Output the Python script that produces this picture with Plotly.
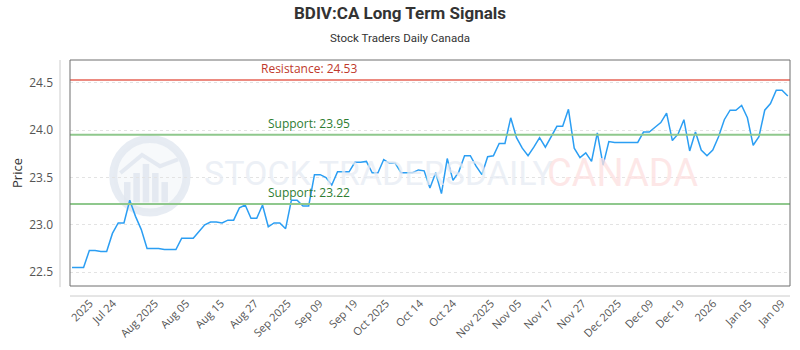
import plotly.graph_objects as go

# ---- data ----
prices = [22.55, 22.55, 22.55, 22.73, 22.73, 22.72, 22.72, 22.91, 23.02, 23.02,
          23.26, 23.09, 22.95, 22.75, 22.75, 22.75, 22.74, 22.74, 22.74, 22.86,
          22.86, 22.86, 22.93, 23.00, 23.03, 23.03, 23.02, 23.05, 23.05, 23.18,
          23.21, 23.07, 23.07, 23.21, 22.98, 23.02, 23.02, 22.96, 23.26, 23.26,
          23.20, 23.20, 23.53, 23.53, 23.50, 23.42, 23.56, 23.56, 23.56, 23.66,
          23.66, 23.67, 23.55, 23.55, 23.69, 23.65, 23.65, 23.55, 23.55, 23.55,
          23.58, 23.57, 23.39, 23.55, 23.33, 23.70, 23.47, 23.56, 23.73, 23.73,
          23.62, 23.53, 23.72, 23.73, 23.86, 23.86, 24.13, 23.92, 23.81, 23.73,
          23.82, 23.92, 23.82, 23.93, 24.04, 24.04, 24.22, 23.81, 23.71, 23.76,
          23.67, 23.97, 23.63, 23.88, 23.87, 23.87, 23.87, 23.87, 23.87, 23.98,
          23.98, 24.03, 24.08, 24.18, 23.89, 23.96, 24.11, 23.78, 23.98, 23.79,
          23.73, 23.79, 23.93, 24.11, 24.21, 24.21, 24.26, 24.13, 23.84, 23.93,
          24.21, 24.28, 24.42, 24.42, 24.36]

tick_labels = ["2025", "Jul 24", "Aug 2025", "Aug 05", "Aug 15", "Aug 27",
               "Sep 2025", "Sep 09", "Sep 19", "Oct 2025", "Oct 14", "Oct 24",
               "Nov 2025", "Nov 05", "Nov 17", "Nov 27", "Dec 2025", "Dec 09",
               "Dec 19", "2026", "Jan 05", "Jan 09"]
tick_index = [3.1, 7.1, 14.4, 19.8, 25.8, 31.7, 37.4, 42.9, 48.9, 54.4, 60.3,
              66.0, 72.6, 77.3, 82.8, 88.5, 94.6, 100.2, 105.5, 111.1, 117.2, 122.9]

resistance = [24.53]
supports = [23.95, 23.22]

x_idx = list(range(len(prices)))

# ---- figure ----
fig = go.Figure()
fig.add_trace(go.Scatter(x=x_idx, y=prices, mode="lines",
                         line=dict(color="#2b9ef3", width=1.5),
                         hoverinfo="skip", showlegend=False))

shapes = []
annotations = []

# watermark logo (paper coords of plot area)
shapes.append(dict(type="circle", xref="paper", yref="paper",
                   x0=0.060, x1=0.162, y0=0.325, y1=0.650,
                   line=dict(color="rgba(225,231,240,0.8)", width=8),
                   fillcolor="rgba(242,245,249,0.6)", layer="below"))
for bx, top in [(0.075, 0.46), (0.088, 0.50), (0.101, 0.54), (0.114, 0.50), (0.127, 0.46)]:
    shapes.append(dict(type="rect", xref="paper", yref="paper",
                       x0=bx, x1=bx + 0.009, y0=0.37, y1=top,
                       line=dict(width=0), fillcolor="rgba(224,230,239,0.85)", layer="below"))
shapes.append(dict(type="path", xref="paper", yref="paper",
                   path="M 0.070 0.50 L 0.100 0.58 L 0.125 0.53 L 0.150 0.56",
                   line=dict(color="rgba(224,230,239,0.85)", width=4), layer="below"))

annotations.append(dict(xref="paper", yref="paper", x=0.184, y=0.50, xanchor="left",
                        yanchor="middle", showarrow=False, text="STOCK TRADERSDAILY",
                        font=dict(family="Roboto, sans-serif",
                                  size=34, color="rgba(230,235,243,0.75)")))
annotations.append(dict(xref="paper", yref="paper", x=0.660, y=0.50, xanchor="left",
                        yanchor="middle", showarrow=False, text="CANADA",
                        font=dict(family="Roboto, sans-serif", size=38,
                                  color="rgba(253,225,225,0.8)")))

# resistance / support lines
for v in resistance:
    shapes.append(dict(type="line", xref="paper", yref="y", x0=0, x1=1, y0=v, y1=v,
                       line=dict(color="#ec8a80", width=2)))
    annotations.append(dict(xref="paper", yref="y", x=0.332, y=v, yanchor="bottom",
                            xanchor="center", yshift=1, showarrow=False,
                            text=f"Resistance: {v:.2f}",
                            font=dict(family="Open Sans, sans-serif", size=12, color="#c0392b")))
for v in supports:
    shapes.append(dict(type="line", xref="paper", yref="y", x0=0, x1=1, y0=v, y1=v,
                       line=dict(color="#8fc88d", width=2)))
    annotations.append(dict(xref="paper", yref="y", x=0.332, y=v, yanchor="bottom",
                            xanchor="center", yshift=1, showarrow=False,
                            text=f"Support: {v:.2f}",
                            font=dict(family="Open Sans, sans-serif", size=12, color="#2e7d32")))

# frame and outer axis lines
shapes.append(dict(type="rect", xref="paper", yref="paper", x0=0, x1=1, y0=0, y1=1,
                   line=dict(color="#6e6e6e", width=1)))
shapes.append(dict(type="line", xref="paper", yref="paper", x0=-10 / 720, x1=-10 / 720,
                   y0=-0.005, y1=1, line=dict(color="#cccccc", width=1)))
shapes.append(dict(type="line", xref="paper", yref="paper", x0=0, x1=1,
                   y0=-10 / 226, y1=-10 / 226, line=dict(color="#cccccc", width=1)))

# titles
annotations.append(dict(xref="paper", yref="paper", x=(400 - 70) / 720, y=1 + 47 / 226,
                        xanchor="center", yanchor="middle", showarrow=False,
                        text="<b>BDIV:CA Long Term Signals</b>",
                        font=dict(family="Roboto, sans-serif",
                                  size=17, color="#333333")))
annotations.append(dict(xref="paper", yref="paper", x=(400 - 70) / 720, y=1 + 22 / 226,
                        xanchor="center", yanchor="middle", showarrow=False,
                        text="Stock Traders Daily Canada",
                        font=dict(family="Roboto, sans-serif",
                                  size=11.5, color="#333333")))

fig.update_layout(
    width=800, height=350,
    margin=dict(l=70, r=10, t=60, b=64),
    paper_bgcolor="white", plot_bgcolor="white",
    shapes=shapes, annotations=annotations,
    showlegend=False,
    xaxis=dict(range=[-0.35, len(prices) - 1 + 0.38], tickmode="array",
               tickvals=tick_index, ticktext=tick_labels, tickangle=-45,
               showgrid=False, zeroline=False, showline=False, ticks="",
               ticklabelstandoff=8,
               tickfont=dict(family="Open Sans, sans-serif", size=11, color="#555555")),
    yaxis=dict(range=[22.355, 24.74], tickvals=[22.5, 23.0, 23.5, 24.0, 24.5],
               ticktext=["22.5", "23.0", "23.5", "24.0", "24.5"],
               showgrid=True, gridcolor="#e3e3e3", griddash="3px,3px", gridwidth=1,
               zeroline=False, showline=False, ticks="", ticklabelstandoff=16,
               tickfont=dict(family="Open Sans, sans-serif", size=12, color="#555555"),
               title=dict(text="Price", standoff=3,
                          font=dict(family="Open Sans, sans-serif", size=13, color="#333333"))),
)

fig.write_html("out.html", config={"displayModeBar": False})
